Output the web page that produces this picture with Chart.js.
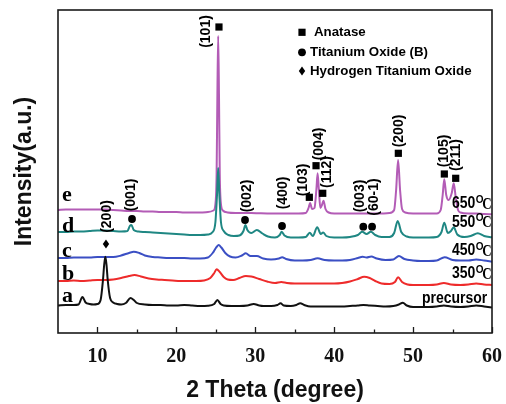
<!DOCTYPE html>
<html>
<head>
<meta charset="utf-8">
<script src="https://cdn.jsdelivr.net/npm/chart.js@4.4.1/dist/chart.umd.min.js"></script>
<style>
  html, body { margin: 0; padding: 0; background: #fff; }
  #wrap { width: 506px; height: 404px; }
</style>
</head>
<body>
<div id="wrap"><canvas id="xrd" width="506" height="404"></canvas></div>
<script>
// 2θ axis
const tickValues = [10, 20, 30, 40, 50, 60];
const minorTickValues = [15, 25, 35, 45, 55];

// samples, bottom to top
const sampleNames = ['a', 'b', 'c', 'd', 'e'];
const sampleTemps = ['precursor', '350', '450', '550', '650'];
const stackOffsets = [24, 48, 72, 96, 119];
const sampleColors = ['#111111', '#ee2b2b', '#3b4fc4', '#1f8783', '#b35cb6'];

// diffraction patterns: [2θ (deg), intensity (a.u.)]
const patternA = [
  [5,3.5],[6,4],[7,4],[7.6,4.5],[8.1,12],[8.5,6.5],[9,5],[9.5,4.5],[10,5],[10.4,9],
  [10.7,29],[10.85,44],[11.0,52.3],[11.15,44],[11.3,29],[11.6,11],[12,6.5],[12.5,5],[13,4.5],
  [13.6,6],[14.2,11],[14.6,9],[15,6],[16,4.5],[17,4],[18,4],[19,3.5],[20,3.5],[21,4],
  [22,3.5],[23,3],[24,3.2],[24.8,5],[25.2,9],[25.6,5],[26,3.5],[27,3],[28,3],[29,3.5],
  [29.8,5],[30.5,3.5],[31,3],[32,3],[32.8,4],[33.2,5.7],[33.6,3.5],[34.5,3],[35.2,4],
  [35.7,5.7],[36.2,4],[37,2.5],[38,2.5],[39,2.5],[40,2.5],[41,2.5],[42,3],[43,3.5],
  [43.7,4],[44.5,3.5],[45.5,3],[46.5,2.5],[47.5,3],[48.2,4.5],[48.7,6.3],[49.2,3.5],
  [50,2],[51,2],[52,2],[53,2.5],[53.9,3.5],[54.8,2.5],[56,2],[57,2.5],[58,3.5],[59,2.5],[60,1.5]
];
const patternB = [
  [5,4],[6,4],[7,4.5],[8,4],[9,4.5],[10,5],[11,5],[12,5.5],[13,7],[14,9],[14.7,10],
  [15.5,8.5],[16.5,6.5],[17.5,5.5],[18.5,5],[19.5,4.5],[20.5,4],[21.5,4],[22.5,4],[23.5,4.5],
  [24.3,7],[24.8,12],[25.1,15.7],[25.5,13],[26,8],[26.5,5.5],[27.2,5],[28,7],[28.8,9],
  [29.5,8.5],[30.5,6],[31.5,3.5],[32.5,2],[33.3,3],[34,2],[35,1.5],[36,1.5],[37,1.5],
  [38,1.5],[39,1.5],[40,1.5],[41,2],[42,3.5],[43,6],[43.8,8.3],[44.5,7],[45.2,4],[46,1.5],
  [47,1],[47.7,3],[48.1,7.7],[48.6,3],[49.3,0.5],[50,0],[51,0],[52,0],[53,0.5],[53.9,2],
  [54.8,0.5],[56,0],[57,0.5],[58,1.5],[59,0.5],[60,0]
];
const patternC = [
  [5,3],[6,3],[7,3.5],[8,3.5],[9,3.5],[10,4],[11,4],[12,4],[13,5.5],[14,8],[14.6,9.3],
  [15.3,8],[16,5.5],[17,4],[18,3.5],[19,3],[20,3],[21,3],[22,2.5],[23,2.5],[24,3.5],
  [24.6,8],[25.0,13],[25.35,16],[25.7,13.5],[26.2,8],[26.8,4.5],[27.5,3.5],[28.3,5.5],
  [28.8,7.7],[29.4,5],[30.2,5],[31,2.5],[32,1.5],[33,2.5],[33.4,3.7],[33.9,2],[35,0.5],
  [36,0.5],[37,1],[37.9,2.7],[38.8,1],[40,0.5],[41,0.5],[42,1],[43,3],[43.6,4.3],[44.1,3.5],
  [44.7,4.5],[45.4,2.5],[46.5,1],[47.5,1.5],[48.2,5],[48.9,2],[50,0.5],[51,0],[52,0],
  [53,0.5],[54,3.7],[55,1],[56,0.5],[57,0.5],[58,1.5],[59,0.5],[60,-0.7]
];
const patternD = [
  [5,5],[6,5],[7,5.5],[8,5.5],[9,6],[10,6.5],[11,6.5],[12,6],[13,5.5],[13.8,6],[14.1,11],
  [14.3,12],[14.6,7],[15.2,5.5],[16,5],[17,4.5],[18,4],[19,3.5],[20,3],[21,2.5],[22,2],
  [23,2],[24,2.5],[24.6,5],[24.95,15],[25.15,42],[25.3,69],[25.45,42],[25.65,15],[26,6],
  [26.6,2],[27.3,1],[28,1.5],[28.5,6],[28.75,12],[29.0,7],[29.5,4],[30.2,7],[30.9,3.5],
  [31.6,0.5],[32.5,-0.5],[33.1,2],[33.35,5.3],[33.7,1.5],[34.5,-0.5],[35.5,-0.5],[36.4,0],
  [36.9,4.3],[37.3,1],[37.85,9.7],[38.3,3],[38.6,4.5],[39,1],[40,-0.5],[41,-0.5],[42,0],
  [43,2],[43.55,5.3],[44.1,3],[44.65,5.3],[45.2,2],[46,0],[47,0],[47.6,4],[48.05,16],
  [48.5,5],[49.2,0.5],[50,-0.5],[51,-0.5],[52,-0.5],[53,0],[53.6,5],[53.95,14.3],[54.4,4],
  [54.8,6],[55.15,9.7],[55.6,2.5],[56.5,0],[57.3,1],[58.2,3.7],[59,1],[60,-0.3]
];
const patternE = [
  [5,4],[6,4.5],[7,4.5],[8,4.5],[9,4.5],[10,4.5],[11,4.5],[12,4],[13,3.5],[14,3],[15,3],
  [16,2.5],[17,2.5],[18,2],[19,2],[20,2],[21,1.5],[22,1.5],[23,1.5],[24,2],[24.7,3.5],
  [24.95,10],[25.1,40],[25.2,120],[25.3,178],[25.4,120],[25.5,40],[25.65,10],[25.9,3.5],
  [26.5,1.5],[27.5,1],[28.5,1],[29.5,1],[30.5,0.7],[31.5,0.5],[32.5,0.5],[33.5,0.5],
  [34.5,0.5],[35.5,0.5],[36.4,1],[36.75,6],[36.95,11],[37.2,5],[37.5,6],[37.75,25],
  [37.9,40.7],[38.05,25],[38.25,6],[38.45,9],[38.65,13.3],[38.9,5],[39.3,1.5],[40,0.5],
  [41,0.5],[42,0.5],[43,0.5],[44,0.5],[45,0.5],[46,0.5],[47,1],[47.6,4],[47.85,24],
  [48.1,54],[48.35,24],[48.6,5],[49,1.5],[50,0.5],[51,0.5],[52,0.5],[53,0.5],[53.5,4],
  [53.75,19],[53.95,34.7],[54.2,19],[54.5,14],[54.9,21],[55.15,30.7],[55.4,17],[55.7,4],
  [56,1.5],[57,0.5],[58,0.5],[59,0],[60,-0.3]
];
const patterns = [patternA, patternB, patternC, patternD, patternE];

// phase legend
const phaseNames = ['Anatase', 'Titanium Oxide (B)', 'Hydrogen Titanium Oxide'];
const phaseSymbols = ['square', 'circle', 'diamond'];

// indexed reflections: label, phase symbol, marker (2θ, level), label centre (2θ, level)
const reflections = [
  { hkl: '(200)',  sym: 'diamond', mx: 11.08, my: 89,    tx: 11.21, ty: 116.5 },
  { hkl: '(001)',  sym: 'circle',  mx: 14.38, my: 114,   tx: 14.25, ty: 138 },
  { hkl: '(101)',  sym: 'square',  mx: 25.40, my: 306,   tx: 23.76, ty: 301.5 },
  { hkl: '(002)',  sym: 'circle',  mx: 28.70, my: 113,   tx: 28.95, ty: 137 },
  { hkl: '(400)',  sym: 'circle',  mx: 33.39, my: 107,   tx: 33.51, ty: 140 },
  { hkl: '(103)',  sym: 'square',  mx: 36.85, my: 135.7, tx: 36.09, ty: 153 },
  { hkl: '(004)',  sym: 'square',  mx: 37.70, my: 167.3, tx: 38.08, ty: 189 },
  { hkl: '(112)',  sym: 'square',  mx: 38.55, my: 139.7, tx: 39.13, ty: 161 },
  { hkl: '(003)',  sym: 'circle',  mx: 43.69, my: 106.3, tx: 43.31, ty: 137 },
  { hkl: '(60-1)', sym: 'circle',  mx: 44.80, my: 106.3, tx: 45.05, ty: 136 },
  { hkl: '(200)',  sym: 'square',  mx: 48.13, my: 179.7, tx: 48.21, ty: 202 },
  { hkl: '(105)',  sym: 'square',  mx: 53.96, my: 159,   tx: 53.92, ty: 182 },
  { hkl: '(211)',  sym: 'square',  mx: 55.40, my: 154.7, tx: 55.40, ty: 178 }
];

// text anchors for the sample letters (left) and temperatures (right), as (2θ, level)
const letterAnchors = [[5.51, 31.3], [5.51, 53], [5.51, 76.3], [5.51, 101.3], [5.51, 132.3]];
const tempAnchors = [[59.40, 29.7], [59.94, 54.7], [59.94, 78], [59.94, 106.3], [59.94, 124.7]];

const SANS = '"Liberation Sans", Arial, sans-serif';
const SERIF = '"Liberation Serif", "Times New Roman", serif';

function drawSymbol(ctx, sym, x, y) {
  ctx.beginPath();
  if (sym === 'square') {
    ctx.rect(x - 3.6, y - 3.6, 7.2, 7.2);
  } else if (sym === 'circle') {
    ctx.arc(x, y, 3.9, 0, Math.PI * 2);
  } else {
    ctx.moveTo(x, y - 4.6);
    ctx.lineTo(x + 3.2, y);
    ctx.lineTo(x, y + 4.6);
    ctx.lineTo(x - 3.2, y);
    ctx.closePath();
  }
  ctx.fill();
}

const framePlugin = {
  id: 'frameAndTicks',
  afterDatasetsDraw(chart) {
    const { ctx, chartArea: a, scales } = chart;
    ctx.save();
    ctx.strokeStyle = '#1a1a1a';
    ctx.lineWidth = 1.6;
    ctx.strokeRect(a.left, a.top, a.right - a.left, a.bottom - a.top);
    ctx.lineWidth = 1.3;
    ctx.beginPath();
    tickValues.forEach(v => {
      const x = Math.round(scales.x.getPixelForValue(v)) + 0.5;
      ctx.moveTo(x, a.bottom);
      ctx.lineTo(x, a.bottom - 6);
    });
    minorTickValues.forEach(v => {
      const x = Math.round(scales.x.getPixelForValue(v)) + 0.5;
      ctx.moveTo(x, a.bottom);
      ctx.lineTo(x, a.bottom - 3.5);
    });
    ctx.stroke();
    ctx.restore();
  }
};

const labelPlugin = {
  id: 'phaseLabels',
  afterDatasetsDraw(chart) {
    const { ctx, chartArea: a, scales } = chart;
    const px = v => scales.x.getPixelForValue(v);
    const py = v => scales.y.getPixelForValue(v);
    ctx.save();
    ctx.fillStyle = '#000';

    // reflection markers and rotated Miller indices
    reflections.forEach(r => {
      drawSymbol(ctx, r.sym, px(r.mx), py(r.my));
      ctx.save();
      ctx.translate(px(r.tx), py(r.ty));
      ctx.rotate(-Math.PI / 2);
      ctx.font = 'bold 14px ' + SANS;
      ctx.textAlign = 'center';
      ctx.textBaseline = 'middle';
      ctx.fillText(r.hkl, 0, 0);
      ctx.restore();
    });

    // phase legend
    ctx.font = 'bold 13.3px ' + SANS;
    ctx.textAlign = 'left';
    ctx.textBaseline = 'middle';
    const legendRows = [32.3, 52.3, 71];
    const textStart = [314, 310, 310];
    phaseNames.forEach((name, i) => {
      drawSymbol(ctx, phaseSymbols[i], a.left + 244, legendRows[i]);
      ctx.fillText(name, textStart[i], legendRows[i]);
    });

    // sample letters
    ctx.font = 'bold 22px ' + SERIF;
    ctx.textBaseline = 'alphabetic';
    sampleNames.forEach((n, i) => {
      const [t, l] = letterAnchors[i];
      ctx.fillText(n, px(t), py(l));
    });

    // temperatures / precursor, right aligned
    sampleTemps.forEach((label, i) => {
      const [t, l] = tempAnchors[i];
      const right = px(t), base = py(l);
      ctx.save();
      if (label === 'precursor') {
        ctx.translate(right, base);
        ctx.scale(1, 1.15);
        ctx.font = 'bold 14px ' + SANS;
        ctx.textAlign = 'right';
        ctx.fillText(label, 0, 0);
      } else {
        ctx.textAlign = 'left';
        ctx.font = 'bold 13px ' + SERIF;
        const wC = ctx.measureText('C').width;
        ctx.font = 'bold 10px ' + SANS;
        const wO = ctx.measureText('O').width;
        ctx.font = 'bold 14px ' + SANS;
        const wN = ctx.measureText(label).width;
        const xC = right - wC;
        const xO = xC - wO + 1.5;
        const xN = xO - wN - 0.5;
        ctx.save();
        ctx.translate(xN, base);
        ctx.scale(1, 1.2);
        ctx.fillText(label, 0, 0);
        ctx.restore();
        ctx.save();
        ctx.translate(xO, base - 5.5);
        ctx.scale(1, 1.1);
        ctx.font = 'bold 10px ' + SANS;
        ctx.fillText('O', 0, 0);
        ctx.restore();
        ctx.save();
        ctx.translate(xC, base + 0.7);
        ctx.scale(1, 1.25);
        ctx.font = 'bold 13px ' + SERIF;
        ctx.fillText('C', 0, 0);
        ctx.restore();
      }
      ctx.restore();
    });
    ctx.restore();
  }
};

const datasets = patterns.map((p, i) => ({
  label: sampleNames[i],
  data: p.map(([t, v]) => ({ x: t, y: v + stackOffsets[i] })),
  borderColor: sampleColors[i],
  borderWidth: 2,
  pointRadius: 0,
  fill: false,
  tension: 0,
  cubicInterpolationMode: 'monotone'
}));

new Chart(document.getElementById('xrd'), {
  type: 'line',
  data: { datasets },
  options: {
    responsive: false,
    devicePixelRatio: 1,
    animation: false,
    layout: { padding: { top: 10, right: 14, left: 0, bottom: 0 } },
    plugins: { legend: { display: false }, tooltip: { enabled: false } },
    scales: {
      x: {
        type: 'linear',
        min: 5,
        max: 60,
        afterBuildTicks: s => { s.ticks = tickValues.map(v => ({ value: v })); },
        afterFit: s => { s.height = 71; },
        grid: { display: false },
        border: { display: false },
        ticks: {
          autoSkip: false,
          maxRotation: 0,
          padding: 4,
          color: '#111',
          font: { family: SERIF, weight: 'bold', size: 20 }
        },
        title: {
          display: true,
          text: '2 Theta (degree)',
          color: '#111',
          padding: { top: 0, bottom: 0 },
          font: { family: SANS, weight: 'bold', size: 23 }
        }
      },
      y: {
        type: 'linear',
        min: 0,
        max: 323,
        afterFit: s => { s.width = 58; },
        grid: { display: false },
        border: { display: false },
        ticks: { display: false },
        title: {
          display: true,
          text: 'Intensity(a.u.)',
          color: '#111',
          padding: { top: 11, bottom: 0 },
          font: { family: SANS, weight: 'bold', size: 23 }
        }
      }
    }
  },
  plugins: [framePlugin, labelPlugin]
});
</script>
</body>
</html>
